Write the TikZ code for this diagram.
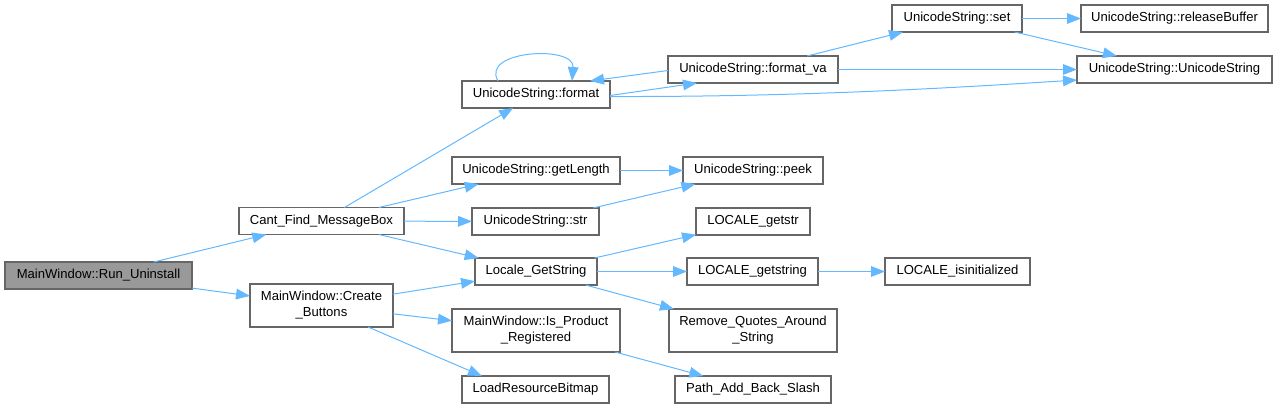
\documentclass[tikz,border=0pt]{standalone}
\usepackage{fontspec}
\setmainfont{Liberation Sans}
\usetikzlibrary{arrows.meta,calc}
\definecolor{edgec}{HTML}{63B8FF}
\definecolor{boxborder}{HTML}{666666}
\definecolor{rootfill}{HTML}{999999}
\begin{document}
\begin{tikzpicture}[x=0.75pt,y=-0.75pt,
  fn/.style={draw=boxborder, fill=white, line width=0.9pt, inner sep=0pt, outer sep=0pt,
    minimum height=27*0.75pt, font=\fontsize{9.8}{12}\selectfont, align=center},
  root/.style={fn, fill=rootfill},
  call/.style={draw=edgec, line width=0.75pt, -{Triangle[length=10.5pt,width=8pt]}}]
\useasboundingbox (0,0) rectangle (1277,408);

% nodes
\node[root, minimum width=187*0.75pt] (run) at (98.5,275.5) {MainWindow::Run\_Uninstall};
\node[fn, minimum width=165*0.75pt] (cant) at (321.5,221) {Cant\_Find\_MessageBox};
\node[fn, minimum width=143*0.75pt, minimum height=43*0.75pt] (create) at (321.5,305.5) {MainWindow::Create\\\_Buttons};
\node[fn, minimum width=148*0.75pt] (format) at (536,94.5) {UnicodeString::format};
\node[fn, minimum width=170*0.75pt] (formatva) at (753,69.5) {UnicodeString::format\_va};
\node[fn, minimum width=130*0.75pt] (set) at (957,18.5) {UnicodeString::set};
\node[fn, minimum width=187*0.75pt] (release) at (1174.5,18.5) {UnicodeString::releaseBuffer};
\node[fn, minimum width=195*0.75pt] (ustr) at (1174.5,69.5) {UnicodeString::UnicodeString};
\node[fn, minimum width=168*0.75pt] (getlen) at (536,170.5) {UnicodeString::getLength};
\node[fn, minimum width=140*0.75pt] (peek) at (753,170.5) {UnicodeString::peek};
\node[fn, minimum width=127*0.75pt] (str) at (535.5,221.5) {UnicodeString::str};
\node[fn, minimum width=114*0.75pt] (getstr) at (753,221.5) {LOCALE\_getstr};
\node[fn, minimum width=122*0.75pt] (lgs) at (536,271.5) {Locale\_GetString};
\node[fn, minimum width=131*0.75pt] (getstring) at (752.5,271.5) {LOCALE\_getstring};
\node[fn, minimum width=145*0.75pt] (isinit) at (957.5,271.5) {LOCALE\_isinitialized};
\node[fn, minimum width=168*0.75pt, minimum height=43*0.75pt] (isprod) at (536,330.5) {MainWindow::Is\_Product\\\_Registered};
\node[fn, minimum width=168*0.75pt, minimum height=43*0.75pt] (remove) at (753,330.5) {Remove\_Quotes\_Around\\\_String};
\node[fn, minimum width=147*0.75pt] (loadres) at (535.5,389.5) {LoadResourceBitmap};
\node[fn, minimum width=156*0.75pt] (path) at (753,389.5) {Path\_Add\_Back\_Slash};

% edges
\draw[call] (run) -- (cant);
\draw[call] (run) -- (create);
\draw[call] (cant) -- (format);
\draw[call] (cant) -- (getlen);
\draw[call] (cant) -- (str);
\draw[call] (cant) -- (lgs);
\draw[call] (create) -- (lgs);
\draw[call] (create) -- (isprod);
\draw[call] ($(create.south east)+(-25,0)$) -- ($(loadres.north west)+(20,0)$);
\draw[call] ($(format.north west)+(36,0)$) .. controls ($(format.north west)+(18,-31)$) and ($(format.north west)+(113,-36)$) .. ($(format.north west)+(110,0)$);
\draw[call] ($(format.east)+(0,1)$) -- ($(formatva.south west)+(29,0)$);
\draw[call] ($(format.east)+(0,2)$) .. controls (800,97) and (950,88) .. ($(ustr.west)+(0,10.5)$);
\draw[call] ($(formatva.west)+(0,1)$) -- ($(format.north east)+(-20,0)$);
\draw[call] (formatva) -- (set);
\draw[call] (formatva) -- (ustr);
\draw[call] (set) -- (release);
\draw[call] (set) -- (ustr);
\draw[call] (getlen) -- (peek);
\draw[call] (str) -- (peek);
\draw[call] (lgs) -- (getstr);
\draw[call] (lgs) -- (getstring);
\draw[call] (lgs) -- (remove);
\draw[call] (getstring) -- (isinit);
\draw[call] (isprod) -- (path);
\end{tikzpicture}
\end{document}
